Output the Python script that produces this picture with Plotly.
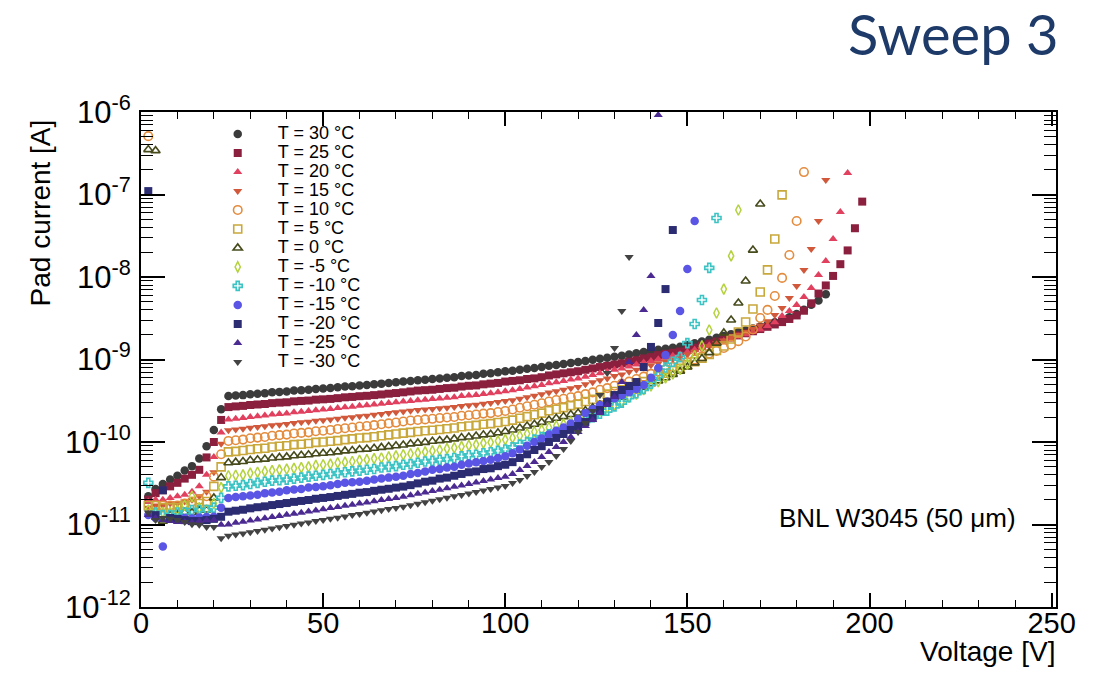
import plotly.graph_objects as go

# Bias voltage steps of the IV sweep [V]
VOLTAGES = list(range(2, 200, 2))

TEMPERATURES = [30, 25, 20, 15, 10, 5, 0, -5, -10, -15, -20, -25, -30]

# Decade ticks of the current axis
Y_TICK_VALUES = [1e-12, 1e-11, 1e-10, 1e-9, 1e-8, 1e-7, 1e-6]
Y_TICK_LABELS = ["10<sup>-12</sup>", "10<sup>-11</sup>", "10<sup>-10</sup>", "10<sup>-9</sup>",
                 "10<sup>-8</sup>", "10<sup>-7</sup>", "10<sup>-6</sup>"]

# Pad current [A] at each voltage step, one list per temperature
CURRENT_30C = [
    2.2e-11, 2.7e-11, 3.1e-11, 3.5e-11, 3.9e-11, 4.5e-11, 5.1e-11, 6.3e-11, 8.9e-11, 1.4e-10, 2.5e-10,
    3.6e-10, 3.65e-10, 3.7e-10, 3.8e-10, 3.85e-10, 3.9e-10, 4.0e-10, 4.05e-10, 4.1e-10, 4.2e-10,
    4.25e-10, 4.3e-10, 4.4e-10, 4.45e-10, 4.5e-10, 4.6e-10, 4.7e-10, 4.75e-10, 4.85e-10, 4.9e-10,
    5.0e-10, 5.1e-10, 5.2e-10, 5.3e-10, 5.4e-10,
    5.5e-10, 5.6e-10, 5.7e-10, 5.8e-10, 5.9e-10, 6.0e-10, 6.1e-10, 6.3e-10, 6.4e-10, 6.5e-10,
    6.7e-10, 6.8e-10, 7.0e-10, 7.2e-10,
    7.3e-10, 7.5e-10, 7.7e-10, 7.9e-10, 8.1e-10, 8.4e-10, 8.6e-10, 8.8e-10, 9.1e-10, 9.3e-10,
    9.6e-10, 9.9e-10, 1.02e-9, 1.05e-9, 1.08e-9, 1.11e-9, 1.15e-9, 1.19e-9, 1.23e-9, 1.27e-9,
    1.31e-9, 1.35e-9, 1.39e-9, 1.43e-9, 1.5e-9, 1.57e-9, 1.65e-9, 1.74e-9, 1.83e-9, 1.93e-9,
    2.03e-9, 2.14e-9, 2.25e-9, 2.38e-9, 2.51e-9, 2.66e-9, 2.83e-9, 3.0e-9, 3.25e-9, 3.56e-9,
    4.0e-9, 4.6e-9, 5.2e-9, 6.2e-9,
]
CURRENT_25C = [
    2.0e-11, 2.4e-11, 2.6e-11, 2.9e-11, 3.2e-11, 3.6e-11, 4.0e-11, 4.6e-11, 6.5e-11, 1.0e-10, 1.85e-10,
    2.65e-10, 2.7e-10, 2.74e-10, 2.81e-10, 2.85e-10, 2.89e-10, 2.96e-10, 3.0e-10, 3.03e-10, 3.11e-10,
    3.15e-10, 3.18e-10, 3.26e-10, 3.29e-10, 3.33e-10, 3.4e-10, 3.48e-10, 3.52e-10, 3.59e-10, 3.63e-10,
    3.7e-10, 3.77e-10, 3.85e-10, 3.92e-10, 4.0e-10,
    4.1e-10, 4.2e-10, 4.25e-10, 4.3e-10, 4.4e-10, 4.5e-10, 4.55e-10, 4.7e-10, 4.8e-10, 4.85e-10,
    5.0e-10, 5.1e-10, 5.2e-10, 5.4e-10,
    5.5e-10, 5.6e-10, 5.8e-10, 5.9e-10, 6.1e-10, 6.4e-10, 6.6e-10, 6.8e-10, 7.0e-10, 7.2e-10,
    7.5e-10, 7.8e-10, 8.1e-10, 8.4e-10, 8.7e-10, 9.0e-10, 9.4e-10, 9.8e-10, 1.03e-9, 1.07e-9,
    1.13e-9, 1.17e-9, 1.21e-9, 1.25e-9, 1.32e-9, 1.39e-9, 1.47e-9, 1.56e-9, 1.65e-9, 1.75e-9,
    1.85e-9, 1.96e-9, 2.08e-9, 2.2e-9, 2.34e-9, 2.49e-9, 2.66e-9, 2.84e-9, 3.1e-9, 3.42e-9,
    3.9e-9, 4.8e-9, 6.3e-9, 7.9e-9, 1.03e-8, 1.43e-8, 2.1e-8, 3.9e-8, 8.2e-8,
]
CURRENT_20C = [
    1.9e-11, 2.0e-11, 2.0e-11, 2.1e-11, 2.2e-11, 2.3e-11, 2.5e-11, 2.9e-11, 4.0e-11, 6.6e-11, 1.3e-10,
    1.87e-10, 1.91e-10, 1.95e-10, 2.01e-10, 2.05e-10, 2.09e-10, 2.15e-10, 2.19e-10, 2.22e-10, 2.29e-10,
    2.33e-10, 2.37e-10, 2.43e-10, 2.47e-10, 2.51e-10, 2.58e-10, 2.64e-10, 2.68e-10, 2.75e-10, 2.78e-10,
    2.84e-10, 2.9e-10, 2.96e-10, 3.03e-10, 3.09e-10,
    3.15e-10, 3.2e-10, 3.26e-10, 3.32e-10, 3.37e-10, 3.43e-10, 3.49e-10, 3.6e-10, 3.66e-10, 3.72e-10,
    3.83e-10, 3.89e-10, 4.0e-10, 4.12e-10,
    4.23e-10, 4.4e-10, 4.57e-10, 4.74e-10, 4.91e-10, 5.14e-10, 5.31e-10, 5.49e-10, 5.72e-10, 5.9e-10,
    6.2e-10, 6.5e-10, 6.8e-10, 7.1e-10, 7.5e-10, 7.8e-10, 8.2e-10, 8.7e-10, 9.2e-10, 9.6e-10,
    1.01e-9, 1.06e-9, 1.11e-9, 1.16e-9, 1.23e-9, 1.31e-9, 1.4e-9, 1.49e-9, 1.59e-9, 1.68e-9,
    1.79e-9, 1.9e-9, 2.03e-9, 2.17e-9, 2.31e-9, 2.55e-9, 2.83e-9, 3.37e-9, 3.87e-9, 4.58e-9,
    5.71e-9, 7.35e-9, 1.06e-8, 1.56e-8, 2.89e-8, 6.13e-8, 1.82e-7,
]
CURRENT_15C = [
    1.6e-11, 1.7e-11, 1.7e-11, 1.8e-11, 1.8e-11, 1.9e-11, 2.0e-11, 2.2e-11, 2.5e-11, 4.3e-11, 9.5e-11,
    1.39e-10, 1.42e-10, 1.45e-10, 1.49e-10, 1.52e-10, 1.55e-10, 1.6e-10, 1.62e-10, 1.65e-10, 1.7e-10,
    1.73e-10, 1.76e-10, 1.81e-10, 1.84e-10, 1.87e-10, 1.92e-10, 1.97e-10, 2.0e-10, 2.05e-10, 2.08e-10,
    2.14e-10, 2.19e-10, 2.24e-10, 2.29e-10, 2.35e-10,
    2.39e-10, 2.44e-10, 2.48e-10, 2.52e-10, 2.57e-10, 2.61e-10, 2.65e-10, 2.74e-10, 2.78e-10, 2.83e-10,
    2.91e-10, 2.96e-10, 3.05e-10, 3.13e-10,
    3.21e-10, 3.35e-10, 3.49e-10, 3.63e-10, 3.78e-10, 3.97e-10, 4.13e-10, 4.29e-10, 4.49e-10, 4.65e-10,
    5.0e-10, 5.3e-10, 5.6e-10, 5.9e-10, 6.3e-10, 6.6e-10, 7.1e-10, 7.5e-10, 8.0e-10, 8.5e-10,
    9.0e-10, 9.5e-10, 1.01e-9, 1.07e-9, 1.15e-9, 1.24e-9, 1.34e-9, 1.45e-9, 1.57e-9, 1.7e-9,
    1.84e-9, 2.0e-9, 2.16e-9, 2.35e-9, 2.59e-9, 2.9e-9, 3.46e-9, 4.21e-9, 5.56e-9, 7.8e-9,
    1.22e-8, 2.18e-8, 4.77e-8, 1.5e-7,
]
CURRENT_10C = [
    5.1e-7, 1.7e-11, 1.7e-11, 1.7e-11, 1.7e-11, 1.8e-11, 1.9e-11, 2.0e-11, 2.2e-11, 3.8e-11, 7.1e-11,
    1.03e-10, 1.05e-10, 1.07e-10, 1.11e-10, 1.13e-10, 1.15e-10, 1.19e-10, 1.21e-10, 1.23e-10, 1.27e-10,
    1.29e-10, 1.31e-10, 1.35e-10, 1.37e-10, 1.4e-10, 1.44e-10, 1.47e-10, 1.5e-10, 1.54e-10, 1.56e-10,
    1.6e-10, 1.64e-10, 1.68e-10, 1.72e-10, 1.77e-10,
    1.82e-10, 1.85e-10, 1.88e-10, 1.91e-10, 1.95e-10, 1.98e-10, 2.01e-10, 2.08e-10, 2.11e-10, 2.15e-10,
    2.21e-10, 2.24e-10, 2.31e-10, 2.38e-10,
    2.48e-10, 2.6e-10, 2.71e-10, 2.83e-10, 2.95e-10, 3.1e-10, 3.23e-10, 3.34e-10, 3.49e-10, 3.6e-10,
    3.8e-10, 4.0e-10, 4.3e-10, 4.5e-10, 4.8e-10, 5.1e-10, 5.4e-10, 5.8e-10, 6.2e-10, 6.7e-10,
    7.1e-10, 7.6e-10, 8.1e-10, 8.6e-10, 9.3e-10, 1.0e-9, 1.09e-9, 1.18e-9, 1.27e-9, 1.38e-9,
    1.51e-9, 1.67e-9, 1.9e-9, 2.31e-9, 3.18e-9, 3.99e-9, 5.89e-9, 9.75e-9, 1.85e-8, 4.77e-8,
    1.87e-7,
]
CURRENT_5C = [
    1.7e-11, 1.7e-11, 1.6e-11, 1.6e-11, 1.6e-11, 1.7e-11, 1.7e-11, 1.8e-11, 1.9e-11, 2.9e-11, 5.0e-11,
    7.6e-11, 7.7e-11, 7.9e-11, 8.1e-11, 8.3e-11, 8.4e-11, 8.7e-11, 8.9e-11, 9.0e-11, 9.3e-11,
    9.4e-11, 9.6e-11, 9.9e-11, 1.0e-10, 1.02e-10, 1.04e-10, 1.07e-10, 1.09e-10, 1.12e-10, 1.13e-10,
    1.16e-10, 1.19e-10, 1.22e-10, 1.25e-10, 1.28e-10,
    1.31e-10, 1.34e-10, 1.37e-10, 1.39e-10, 1.42e-10, 1.45e-10, 1.48e-10, 1.53e-10, 1.56e-10, 1.59e-10,
    1.64e-10, 1.67e-10, 1.72e-10, 1.77e-10,
    1.84e-10, 1.94e-10, 2.03e-10, 2.14e-10, 2.24e-10, 2.39e-10, 2.49e-10, 2.61e-10, 2.76e-10, 2.88e-10,
    3.1e-10, 3.3e-10, 3.5e-10, 3.8e-10, 4.1e-10, 4.3e-10, 4.7e-10, 5.0e-10, 5.4e-10, 5.8e-10,
    6.3e-10, 6.8e-10, 7.3e-10, 7.8e-10, 8.6e-10, 9.4e-10, 1.04e-9, 1.15e-9, 1.29e-9, 1.46e-9,
    1.77e-9, 2.15e-9, 2.85e-9, 4.09e-9, 6.58e-9, 1.22e-8, 2.89e-8, 9.9e-8,
]
CURRENT_0C = [
    3.5e-7, 3.4e-7, 1.1e-11, 1.3e-11, 1.3e-11, 1.4e-11, 1.4e-11, 1.5e-11, 1.5e-11, 2.1e-11, 3.7e-11,
    5.6e-11, 5.7e-11, 5.8e-11, 6.0e-11, 6.1e-11, 6.2e-11, 6.4e-11, 6.5e-11, 6.6e-11, 6.8e-11,
    6.9e-11, 7.0e-11, 7.2e-11, 7.3e-11, 7.4e-11, 7.6e-11, 7.8e-11, 7.9e-11, 8.1e-11, 8.2e-11,
    8.4e-11, 8.6e-11, 8.8e-11, 9.0e-11, 9.2e-11,
    9.5e-11, 9.7e-11, 9.9e-11, 1.02e-10, 1.04e-10, 1.06e-10, 1.09e-10, 1.13e-10, 1.15e-10, 1.18e-10,
    1.22e-10, 1.24e-10, 1.29e-10, 1.34e-10,
    1.4e-10, 1.48e-10, 1.56e-10, 1.64e-10, 1.73e-10, 1.85e-10, 1.94e-10, 2.03e-10, 2.15e-10, 2.25e-10,
    2.4e-10, 2.6e-10, 2.8e-10, 3.0e-10, 3.3e-10, 3.5e-10, 3.9e-10, 4.2e-10, 4.6e-10, 5.1e-10,
    5.5e-10, 6.0e-10, 6.6e-10, 7.2e-10, 8.1e-10, 9.1e-10, 1.03e-9, 1.21e-9, 1.58e-9, 2.1e-9,
    3.01e-9, 4.84e-9, 8.95e-9, 2.12e-8, 7.68e-8,
]
CURRENT_M5C = [
    1.5e-11, 1.4e-11, 1.4e-11, 1.4e-11, 1.5e-11, 1.7e-11, 2.2e-11, 1.6e-11, 1.5e-11, 1.8e-11, 2.8e-11,
    3.9e-11, 3.95e-11, 4.0e-11, 4.2e-11, 4.3e-11, 4.4e-11, 4.5e-11, 4.6e-11, 4.7e-11, 4.8e-11,
    4.9e-11, 5.0e-11, 5.2e-11, 5.3e-11, 5.4e-11, 5.6e-11, 5.7e-11, 5.8e-11, 6.0e-11, 6.1e-11,
    6.3e-11, 6.4e-11, 6.6e-11, 6.8e-11, 7.0e-11,
    7.2e-11, 7.4e-11, 7.6e-11, 7.8e-11, 8.0e-11, 8.3e-11, 8.5e-11, 8.8e-11, 9.1e-11, 9.3e-11,
    9.7e-11, 9.9e-11, 1.03e-10, 1.07e-10,
    1.12e-10, 1.19e-10, 1.26e-10, 1.33e-10, 1.4e-10, 1.5e-10, 1.57e-10, 1.65e-10, 1.76e-10, 1.84e-10,
    2.0e-10, 2.2e-10, 2.4e-10, 2.6e-10, 2.8e-10, 3.1e-10, 3.5e-10, 3.8e-10, 4.3e-10, 4.8e-10,
    5.4e-10, 6.0e-10, 6.7e-10, 7.6e-10, 8.8e-10, 1.11e-9, 1.46e-9, 2.28e-9, 3.66e-9, 7.14e-9,
    1.8e-8, 6.49e-8,
]
CURRENT_M10C = [
    3.2e-11, 1.4e-11, 1.3e-11, 1.3e-11, 1.4e-11, 1.4e-11, 1.5e-11, 1.5e-11, 1.5e-11, 1.6e-11, 2.1e-11,
    2.9e-11, 2.95e-11, 3.0e-11, 3.1e-11, 3.2e-11, 3.3e-11, 3.4e-11, 3.45e-11, 3.5e-11, 3.6e-11,
    3.7e-11, 3.8e-11, 3.9e-11, 4.0e-11, 4.1e-11, 4.2e-11, 4.3e-11, 4.4e-11, 4.5e-11, 4.6e-11,
    4.7e-11, 4.9e-11, 5.0e-11, 5.1e-11, 5.3e-11,
    5.4e-11, 5.6e-11, 5.8e-11, 5.9e-11, 6.1e-11, 6.2e-11, 6.4e-11, 6.7e-11, 6.9e-11, 7.0e-11,
    7.3e-11, 7.5e-11, 7.8e-11, 8.1e-11,
    8.6e-11, 9.3e-11, 1.0e-10, 1.07e-10, 1.15e-10, 1.24e-10, 1.32e-10, 1.41e-10, 1.51e-10, 1.6e-10,
    1.8e-10, 2.0e-10, 2.2e-10, 2.4e-10, 2.7e-10, 3.0e-10, 3.5e-10, 3.9e-10, 4.4e-10, 5.1e-10,
    6.3e-10, 8.0e-10, 9.4e-10, 1.07e-9, 1.58e-9, 2.69e-9, 5.27e-9, 1.29e-8, 5.19e-8,
]
CURRENT_M15C = [
    1.3e-11, 1.2e-11, 5.4e-12, 1.17e-11, 1.16e-11, 1.2e-11, 1.18e-11, 1.22e-11, 1.23e-11, 1.24e-11, 1.6e-11,
    2.1e-11, 2.15e-11, 2.2e-11, 2.25e-11, 2.3e-11, 2.4e-11, 2.45e-11, 2.5e-11, 2.6e-11, 2.65e-11,
    2.7e-11, 2.8e-11, 2.85e-11, 2.9e-11, 3.0e-11, 3.1e-11, 3.2e-11, 3.25e-11, 3.3e-11, 3.4e-11,
    3.5e-11, 3.6e-11, 3.7e-11, 3.8e-11, 3.9e-11,
    4.1e-11, 4.2e-11, 4.4e-11, 4.6e-11, 4.7e-11, 4.9e-11, 5.0e-11, 5.3e-11, 5.5e-11, 5.7e-11,
    5.9e-11, 6.1e-11, 6.4e-11, 6.7e-11,
    7.3e-11, 8.1e-11, 9.0e-11, 1.0e-10, 1.1e-10, 1.23e-10, 1.37e-10, 1.5e-10, 1.68e-10, 1.9e-10,
    2.25e-10, 2.5e-10, 2.8e-10, 3.1e-10, 3.4e-10, 3.7e-10, 4.0e-10, 4.4e-10, 4.9e-10, 6.0e-10,
    7.9e-10, 1.13e-9, 1.98e-9, 3.87e-9, 1.25e-8, 4.77e-8,
]
CURRENT_M20C = [
    1.1e-7, 1.3e-11, 2.6e-11, 1.2e-11, 1.17e-11, 1.13e-11, 1.1e-11, 1.1e-11, 1.13e-11, 1.17e-11, 1.24e-11,
    1.43e-11, 1.47e-11, 1.51e-11, 1.57e-11, 1.62e-11, 1.66e-11, 1.72e-11, 1.77e-11, 1.82e-11, 1.88e-11,
    1.93e-11, 1.98e-11, 2.05e-11, 2.1e-11, 2.15e-11, 2.22e-11, 2.29e-11, 2.35e-11, 2.43e-11, 2.47e-11,
    2.56e-11, 2.64e-11, 2.71e-11, 2.8e-11, 2.88e-11,
    3.0e-11, 3.15e-11, 3.3e-11, 3.4e-11, 3.6e-11, 3.7e-11, 3.9e-11, 4.1e-11, 4.3e-11, 4.4e-11,
    4.7e-11, 4.8e-11, 5.1e-11, 5.3e-11,
    5.7e-11, 6.4e-11, 7.1e-11, 8.0e-11, 8.9e-11, 1.0e-10, 1.12e-10, 1.25e-10, 1.4e-10, 1.56e-10,
    1.75e-10, 1.95e-10, 2.44e-10, 3.05e-10, 3.71e-10, 4.27e-10, 4.77e-10, 5.34e-10, 8.1e-10, 1.42e-9,
    2.77e-9, 7.14e-9, 3.71e-8,
]
CURRENT_M25C = [
    1.3e-11, 1.2e-11, 1.13e-11, 1.1e-11, 1.07e-11, 1.07e-11, 1.06e-11, 1.1e-11, 1.13e-11, 1.13e-11, 9.9e-12,
    1.0e-11, 1.05e-11, 1.08e-11, 1.12e-11, 1.15e-11, 1.19e-11, 1.23e-11, 1.27e-11, 1.31e-11, 1.35e-11,
    1.39e-11, 1.44e-11, 1.48e-11, 1.53e-11, 1.58e-11, 1.63e-11, 1.69e-11, 1.74e-11, 1.8e-11, 1.85e-11,
    1.91e-11, 1.98e-11, 2.04e-11, 2.1e-11, 2.17e-11,
    2.26e-11, 2.36e-11, 2.45e-11, 2.55e-11, 2.64e-11, 2.76e-11, 2.87e-11, 2.98e-11, 3.1e-11, 3.24e-11,
    3.37e-11, 3.5e-11, 3.65e-11, 3.8e-11,
    4.09e-11, 4.58e-11, 5.12e-11, 5.71e-11, 6.58e-11, 7.55e-11, 8.68e-11, 1.0e-10, 1.15e-10, 1.32e-10,
    1.56e-10, 1.85e-10, 2.25e-10, 2.81e-10, 3.51e-10, 5.34e-10, 9.33e-10, 1.98e-9, 3.99e-9, 1.03e-8,
    9.2e-7,
]
CURRENT_M30C = [
    1.4e-11, 1.13e-11, 1.2e-11, 1.17e-11, 1.13e-11, 1.07e-11, 1.01e-11, 9.9e-12, 9.3e-12, 9.3e-12, 6.8e-12,
    7.33e-12, 7.55e-12, 7.8e-12, 8.07e-12, 8.34e-12, 8.62e-12, 8.93e-12, 9.26e-12, 9.6e-12, 9.93e-12,
    1.03e-11, 1.06e-11, 1.1e-11, 1.13e-11, 1.17e-11, 1.21e-11, 1.25e-11, 1.3e-11, 1.34e-11, 1.39e-11,
    1.44e-11, 1.49e-11, 1.54e-11, 1.59e-11, 1.64e-11,
    1.71e-11, 1.79e-11, 1.86e-11, 1.94e-11, 2.02e-11, 2.11e-11, 2.2e-11, 2.28e-11, 2.38e-11, 2.48e-11,
    2.59e-11, 2.69e-11, 2.81e-11, 2.93e-11,
    3.19e-11, 3.46e-11, 3.87e-11, 4.32e-11, 4.97e-11, 5.71e-11, 6.77e-11, 8.22e-11, 1.03e-10, 1.32e-10,
    1.7e-10, 2.37e-10, 3.71e-10, 6.86e-10, 1.38e-9, 3.87e-9, 1.75e-8,
]

CURRENTS = [
    CURRENT_30C, CURRENT_25C, CURRENT_20C, CURRENT_15C, CURRENT_10C, CURRENT_5C, CURRENT_0C,
    CURRENT_M5C, CURRENT_M10C, CURRENT_M15C, CURRENT_M20C, CURRENT_M25C, CURRENT_M30C,
]

# marker symbol, colour, size, open-marker outline width
MARKER_STYLES = [
    ("circle", "#3b3b3b", 8.5, 0),
    ("square", "#8a1f3e", 8, 0),
    ("triangle-up", "#e1405f", 8, 0),
    ("triangle-down", "#d1583a", 8, 0),
    ("circle-open", "#e48c3e", 8.5, 1.6),
    ("square-open", "#c9a83b", 8, 1.6),
    ("triangle-up-open", "#474b1c", 8, 1.6),
    ("diamond-tall-open", "#b4d23e", 7.5, 1.5),
    ("cross-open", "#3cc3c4", 7.5, 1.6),
    ("circle", "#5a55e4", 8.5, 0),
    ("square", "#2b2c72", 8, 0),
    ("triangle-up", "#4b2b92", 8, 0),
    ("triangle-down", "#434343", 8, 0),
]

FONT = "Liberation Sans, Arial, Helvetica, sans-serif"

fig = go.Figure()
for temp, values, (symbol, color, size, lw) in zip(TEMPERATURES, CURRENTS, MARKER_STYLES):
    fig.add_trace(go.Scatter(
        x=VOLTAGES[:len(values)],
        y=values,
        mode="markers",
        # legend rows keep the compact 12 px spacing while the label itself is larger
        name=f'<span style="font-size:18px">T = {temp} °C</span>',
        marker=dict(symbol=symbol, size=size, color=color,
                    line=dict(width=lw, color=color)),
    ))

fig.update_layout(
    width=1095,
    height=673,
    margin=dict(l=141, r=39, t=112, b=66),
    paper_bgcolor="white",
    plot_bgcolor="white",
    font=dict(family=FONT, color="black"),
    showlegend=True,
    legend=dict(
        x=0.062, y=0.985, xanchor="left", yanchor="top",
        bgcolor="rgba(0,0,0,0)", borderwidth=0,
        font=dict(size=12, family=FONT, color="black"),
        itemwidth=70, traceorder="normal",
    ),
    xaxis=dict(
        range=[0, 251.2],
        tick0=0, dtick=50,
        ticks="inside", ticklen=14, tickwidth=1.5, tickcolor="black",
        minor=dict(ticks="inside", ticklen=7, tickwidth=1.2, dtick=10, tickcolor="black"),
        showline=True, linewidth=2, linecolor="black", mirror="allticks",
        showgrid=False, zeroline=False,
        tickfont=dict(size=29, family=FONT, color="black"),
        ticklabelstandoff=-11,
    ),
    yaxis=dict(
        type="log",
        range=[-12, -6],
        tickmode="array", tickvals=Y_TICK_VALUES, ticktext=Y_TICK_LABELS,
        ticks="inside", ticklen=24, tickwidth=1.5, tickcolor="black",
        minor=dict(ticks="inside", ticklen=12, tickwidth=1.2, dtick="D1", tickcolor="black"),
        showline=True, linewidth=2, linecolor="black", mirror="allticks",
        showgrid=False, zeroline=False,
        tickfont=dict(size=31, family=FONT, color="black"),
        ticklabelstandoff=2,
    ),
    annotations=[
        dict(text="Sweep 3", xref="paper", yref="paper", x=1.0044, y=1.1576,
             xanchor="right", yanchor="middle", showarrow=False,
             font=dict(family="Lato, Open Sans, sans-serif", size=56, color="#1d3a68")),
        dict(text="BNL W3045 (50 μm)", xref="paper", yref="paper", x=0.6951, y=0.1798,
             xanchor="left", yanchor="middle", showarrow=False,
             font=dict(family=FONT, size=26, color="black")),
        dict(text="Voltage [V]", xref="paper", yref="paper", x=1.001, y=-0.0889,
             xanchor="right", yanchor="middle", showarrow=False,
             font=dict(family=FONT, size=28, color="black")),
        dict(text="Pad current [A]", xref="paper", yref="paper", x=-0.1104, y=0.99,
             xanchor="center", yanchor="top", textangle=-90, showarrow=False,
             font=dict(family=FONT, size=28, color="black")),
    ],
)

fig.write_html("out.html")
